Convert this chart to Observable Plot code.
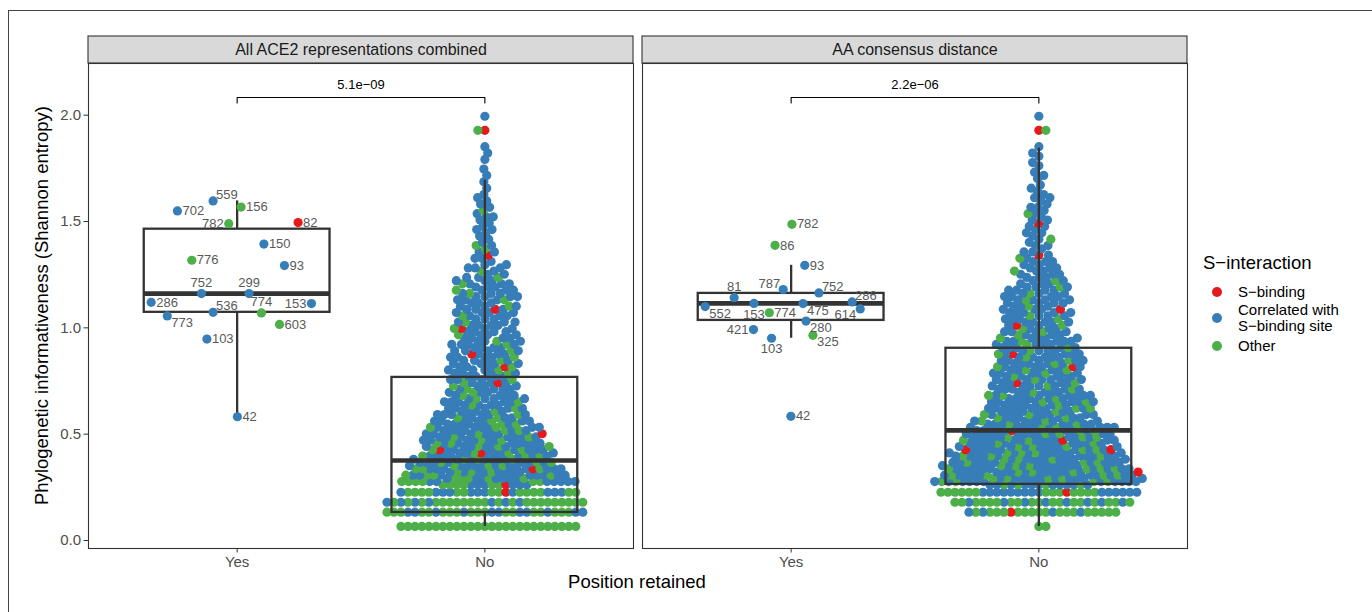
<!DOCTYPE html>
<html><head><meta charset="utf-8">
<script src="https://cdn.jsdelivr.net/npm/d3@7"></script>
<script src="https://cdn.jsdelivr.net/npm/@observablehq/plot@0.6"></script>
<style>
body{margin:0;background:#fff;font-family:"Liberation Sans",Arial,sans-serif;}
#wrap{position:relative;width:1372px;height:612px;overflow:hidden;background:#fff;}
#frame{position:absolute;left:8px;top:10px;width:1420px;height:700px;border:1px solid #444;box-sizing:border-box;}
#chart{position:absolute;left:0;top:0;}
.lg{position:absolute;color:#000;white-space:nowrap;}
.dot{position:absolute;width:10px;height:10px;border-radius:50%;}
</style></head>
<body><div id="wrap"><div id="frame"></div><div id="chart"></div>
<div class="lg" style="left:1203px;top:252px;font-size:18.5px;">S−interaction</div>
<div class="dot" style="left:1212px;top:287px;background:#E41A1C"></div>
<div class="lg" style="left:1238px;top:283px;font-size:15px;line-height:18px;">S−binding</div>
<div class="dot" style="left:1212px;top:313px;background:#377EB8"></div>
<div class="lg" style="left:1238px;top:302px;font-size:15px;line-height:16px;">Correlated with<br>S−binding site</div>
<div class="dot" style="left:1212px;top:341px;background:#4DAF4A"></div>
<div class="lg" style="left:1238px;top:337px;font-size:15px;line-height:18px;">Other</div>
</div>
<script>
// ---------------- data ----------------
const facets = ["All ACE2 representations combined", "AA consensus distance"];
const groups = ["Yes", "No"];
const categories = ["S-binding", "Correlated with S-binding site", "Other"];
const catCodes = {S: 0, C: 1, O: 2};
const catColors = ["#E41A1C", "#377EB8", "#4DAF4A"];
const pValues = ["5.1e−09", "2.2e−06"];

// retained positions ("Yes"), facet 1
const yes1Label = ["559","702","156","782","82","150","776","93","752","299","286","153","536","774","773","603","103","42"];
const yes1Value = [1.597,1.550,1.568,1.490,1.495,1.394,1.318,1.293,1.161,1.161,1.120,1.114,1.073,1.070,1.056,1.016,0.947,0.582];
const yes1Cat   = [1,1,2,2,0,1,2,1,1,1,1,1,1,2,1,2,1,1];
const yes1Jitter= [-0.097,-0.241,0.016,-0.034,0.246,0.108,-0.183,0.191,-0.144,0.048,-0.347,0.300,-0.097,0.098,-0.282,0.171,-0.122,0.001];
const yes1LabelSide = ["tr","r","r","l","r","r","r","r","t","t","r","l","tr","t","br","r","r","r"];

// retained positions ("Yes"), facet 2
const yes2Label = ["782","86","93","787","752","81","286","153","475","552","614","774","280","421","325","103","42"];
const yes2Value = [1.487,1.388,1.294,1.180,1.164,1.142,1.122,1.115,1.114,1.100,1.089,1.071,1.032,0.992,0.965,0.951,0.584];
const yes2Cat   = [2,2,1,1,1,1,1,1,1,1,1,2,1,1,2,1,1];
const yes2Jitter= [0.003,-0.065,0.055,-0.032,0.112,-0.230,0.246,-0.150,0.048,-0.347,0.279,-0.088,0.060,-0.152,0.088,-0.079,-0.001];
const yes2LabelSide = ["r","r","r","tl","tr","t","tr","b","br","br","bl","r","br","l","br","b","r"];

// non-retained positions ("No"): entropy levels, and the classes of the positions found at each level
// (S = S-binding, C = correlated with S-binding site, O = other)
const entropyLevels = [0.066,0.133,0.180,0.227,
0.262,0.277,0.292,0.307,0.322,0.337,0.352,0.367,0.382,0.397,
0.412,0.427,0.442,0.457,0.472,0.487,0.502,0.517,0.532,0.547,
0.562,0.577,0.592,0.607,0.622,0.637,0.652,0.667,0.682,0.697,
0.712,0.727,0.742,0.757,0.772,0.787,0.802,0.817,0.832,0.847,
0.862,0.877,0.892,0.907,0.922,0.937,0.952,0.967,0.982,0.997,
1.012,1.027,1.042,1.057,1.072,1.087,1.102,1.117,1.132,1.147,
1.162,1.177,1.192,1.207,1.222,1.237,1.252,1.267,1.282,1.297,
1.312,1.327,1.342,1.357,1.372,1.387,1.402,1.417,1.432,1.447,
1.462,1.477,1.492,1.507,1.522,1.537,1.552,1.567,1.582,1.597,
1.612,1.627,1.642,1.657,1.672,1.687,1.702,1.717,1.732,1.747,
1.762,1.777,1.792,1.807,1.822,1.837,1.852,1.929,1.995];

const no1Classes = ["OOOOOOOOOOOOOOOOOOOOOOOOOO","OCOCOOCOOCOCOOCOOCOOCOCOOCOCO","OOCOOOCOOOCOOOOCOOOCOOOCOOOCO","COCOCSOCOOCOCOCOOCOCOCOOCO",
"COCOCSOCOCOCO","OCOCCOCOCOCOC","COCCOCOCOCCO","CCOCOCCOCCOC","COCCOCCCOCC","CCSCOCCOCOC","COCCCOCCOCC","CCOCCOCCCO","COCCCOCCOC","CCOCCCOCCO",
"CSCOCCOCC","CCOCCSCOC","COCCOCCCO","CCOCCCOCC","COCCOCCC","CCCOCCOCC","CCOCCCSC","COCCCOCC","CCCOCCOC","COCCCOC",
"CCOCCCC","COCCOC","CCCOCCC","COCCC","CCCOCC","CCOCC","CCCCOC","COCCC","CCOCC","CCOC",
"COCCC","CCOC","CSCCO","CCOC","CCCCC","COCC","CCCOC","CSCO","CCCCC","COCC",
"CCCOC","CSCC","CCOCC","CCCC","COCCC","CCOC","CCCC","CCOC","CCCC","CSCO",
"CCCC","COCC","CCC","CCOC","CCCC","CSCC","COCC","CCC","CCOC","CCCC",
"COCC","CCCO","CCC","CCOC","CCC","COC","CC","OC","CCC","CC",
"C","CC","S","CC","O","CO","C","C","C","C",
"CC","C","C","C","CC","C","O","C","C","C",
"C","C","","C","","C","","C","","C",
"","","C","","C","","C","SO","C"];

const no2Classes = ["OO","OOOCOOOOSOOCOOOOCOOOCO","OCOOCOOCOOCOOCOOOCOOCOOCOO","COCOCOCSCOCOCOCOCCOCOCOCOCOCO",
"CCOCCOCCCOCCOCC","COCCCOCCOCCCOCC","CCOCCCOCCOCCCOC","COCCOCCCOCCOCC","CCOCCCOCCOCCCS","COCCCOCCCOCCOC","CCOCCCOCCCOCC","COCCCOCCOCCCC","CCCOCCOCCCOC","CCOCCCCOCCOCC",
"COCCCOCCCOCC","CCOCCCOCCCSS","COCCCOCCOCC","CCOCCCCOCCC","CCCOCCSCCOC","COCCOCCCOCC","CCOCCCOCCC","CSCCOCCCOCC","COCCCOCCCC","CCOCCOCCCC",
"COCCCOCC","CCCOCCOC","CCOCCCOC","COCCCCC","CCCOCCCO","CCOCCCC","COCCCOCC","CCCOCCC","CCOCCCOC","COCCCC",
"CCOCCC","CCOCCC","CSCCOC","COCCCC","CCCOCC","CCOCCC","COCCOC","CCSCCO","CCOCCC","COCCCC",
"CCCOCC","CSCCCO","COCCC","CCCOCC","CCOCC","COCCCC","CCCOC","CCOC","COCCC","CCOC",
"CSOC","CCCCC","COCC","CCOC","CCCCC","CCSC","COCC","CCCC","CCOCC","CCCC",
"COCC","CCCC","CCOC","CCC","COC","CCC","CCC","CCO","CCC","CC",
"CCC","CO","SC","CC","C","CC","C","CO","C","CC",
"C","CC","S","CC","C","CO","C","CC","C","C",
"CC","C","C","C","C","","C","C","C","",
"C","C","","C","C","","C","SO","C"];

// box-plot summaries
const boxFacet = [0, 0, 1, 1];
const boxGroup = [1, 2, 1, 2];
const boxQ1  = [1.073, 0.132, 1.035, 0.264];
const boxMed = [1.161, 0.376, 1.115, 0.518];
const boxQ3  = [1.464, 0.767, 1.162, 0.904];
const boxLo  = [0.582, 0.066, 0.951, 0.066];
const boxHi  = [1.597, 1.694, 1.294, 1.845];

// ---------------- layout ----------------
const W = 1372, H = 612, mT = 63, mB = 64, mL = 87, mR = 185;
const padInner = 0.0163;
const xDom = [0.4, 2.6];
const yDom = [-0.0376, 2.2431];
const bw = (W - mL - mR) / (2 - padInner) * (1 - padInner);
const pxX = bw / (xDom[1] - xDom[0]);
const pxY = (H - mT - mB) / (yDom[1] - yDom[0]);
const SP = 7; // beeswarm spacing in px
const R = 4.6;

if (no1Classes.length !== entropyLevels.length || no2Classes.length !== entropyLevels.length)
  throw new Error("length mismatch " + entropyLevels.length + " " + no1Classes.length + " " + no2Classes.length);

function swarm(ysPx, s) {
  const placed = [], out = [];
  ysPx.forEach((y, i) => {
    const near = placed.filter(p => Math.abs(p.y - y) < s);
    const cands = [0];
    for (const p of near) { const dx = Math.sqrt(s * s - (p.y - y) ** 2); cands.push(p.x + dx, p.x - dx); }
    const pref = i % 2 ? 1 : -1;
    cands.sort((a, b) => {
      const d = Math.abs(a) - Math.abs(b);
      if (Math.abs(d) > 1e-6) return d;
      return pref * (b - a);
    });
    let best = 0;
    for (const c of cands) {
      if (near.every(p => (p.x - c) ** 2 + (p.y - y) ** 2 >= s * s - 1e-6)) { best = c; break; }
    }
    placed.push({x: best, y});
    out.push(best);
  });
  return out;
}

function buildNo(fi, classes) {
  const pts = [];
  entropyLevels.forEach((v, i) => {
    for (const ch of classes[i]) pts.push({facet: facets[fi], value: v, cat: categories[catCodes[ch]]});
  });
  const offs = swarm(pts.map(p => p.value * pxY), SP);
  pts.forEach((p, i) => p.x = 2 + offs[i] / pxX);
  return pts;
}
const noPts = [...buildNo(0, no1Classes), ...buildNo(1, no2Classes)];

const sideSpec = {r:["start",5,0], l:["end",-5,0], t:["middle",0,-11], b:["middle",0,11], tr:["start",3,-6], tl:["end",-3,-6], br:["start",4,7], bl:["end",-4,6]};
function buildYes(fi, labels, values, cats, jit, sides) {
  return labels.map((lab, i) => {
    const [anchor, dx, dy] = sideSpec[sides[i]];
    const x = 1 + jit[i];
    return {facet: facets[fi], label: lab, value: values[i], cat: categories[cats[i]], x,
            lx: x + dx / pxX, ly: values[i] - dy / pxY, anchor};
  });
}
const yesPts = [...buildYes(0, yes1Label, yes1Value, yes1Cat, yes1Jitter, yes1LabelSide),
                ...buildYes(1, yes2Label, yes2Value, yes2Cat, yes2Jitter, yes2LabelSide)];

const boxes = boxFacet.map((f, i) => ({facet: facets[f], g: boxGroup[i], q1: boxQ1[i], med: boxMed[i], q3: boxQ3[i], lo: boxLo[i], hi: boxHi[i]}));
const halfBox = 0.375;

const yStripTop = yDom[1] + 27 / pxY;
const yStripMid = yDom[1] + 13.5 / pxY;
const yBr = (540 - 97) / pxY, yBrTick = (540 - 102.5) / pxY, yBrText = (540 - 84) / pxY;
const brackets = facets.flatMap(f => [
  {facet: f, x: 1, y: yBrTick}, {facet: f, x: 1, y: yBr}, {facet: f, x: 2, y: yBr}, {facet: f, x: 2, y: yBrTick}]);
const pLabels = facets.map((f, i) => ({facet: f, text: pValues[i]}));

const chart = Plot.plot({
  width: W, height: H, marginTop: mT, marginBottom: mB, marginLeft: mL, marginRight: mR,
  style: {fontFamily: "'Liberation Sans', Arial, sans-serif", background: "transparent"},
  fx: {domain: facets, paddingInner: padInner, paddingOuter: 0, axis: null, label: null},
  x: {domain: xDom, label: null},
  y: {domain: yDom, label: null},
  color: {domain: categories, range: catColors},
  marks: [
    Plot.rect(facets, {fx: d => d, x1: xDom[0], x2: xDom[1], y1: yDom[1], y2: yStripTop, fill: "#D9D9D9", stroke: "#333", strokeWidth: 1.1}),
    Plot.text(facets, {fx: d => d, x: 1.5, y: yStripMid, text: d => d, fontSize: 16, fill: "#1A1A1A"}),
    Plot.frame({stroke: "#333", strokeWidth: 1.1}),
    Plot.axisY({ticks: [0, 0.5, 1, 1.5, 2], tickFormat: d3.format(".1f"), tickSize: 4.5, tickPadding: 3, fontSize: 15, fill: "#4D4D4D", stroke: "#333", label: null}),
    Plot.axisX({ticks: [1, 2], tickFormat: d => groups[d - 1], tickSize: 4.5, tickPadding: 3, fontSize: 15, fill: "#4D4D4D", stroke: "#333", label: null}),
    Plot.dot(noPts, {fx: "facet", x: "x", y: "value", fill: "cat", r: R}),
    Plot.rect(boxes, {fx: "facet", x1: d => d.g - halfBox, x2: d => d.g + halfBox, y1: "q1", y2: "q3", fill: "none", stroke: "#333", strokeWidth: 2.3}),
    Plot.ruleX(boxes, {fx: "facet", x: "g", y1: "q3", y2: "hi", stroke: "#333", strokeWidth: 2.3}),
    Plot.ruleX(boxes, {fx: "facet", x: "g", y1: "lo", y2: "q1", stroke: "#333", strokeWidth: 2.3}),
    Plot.ruleY(boxes, {fx: "facet", y: "med", x1: d => d.g - halfBox, x2: d => d.g + halfBox, stroke: "#333", strokeWidth: 4.6}),
    Plot.dot(yesPts, {fx: "facet", x: "x", y: "value", fill: "cat", r: R}),
    ...["start", "middle", "end"].map(a => Plot.text(yesPts.filter(d => d.anchor === a), {fx: "facet", x: "lx", y: "ly", text: "label", textAnchor: a, fontSize: 13, fill: "#595959"})),
    Plot.line(brackets, {fx: "facet", x: "x", y: "y", z: "facet", stroke: "#000", strokeWidth: 1.1}),
    Plot.text(pLabels, {fx: "facet", x: 1.5, y: yBrText, text: "text", fontSize: 13, fill: "#000"})
  ]
});
document.getElementById("chart").appendChild(chart);
const svg = d3.select(chart);
svg.append("text").attr("x", (mL + W - mR) / 2).attr("y", 588).attr("text-anchor", "middle")
  .attr("font-size", 18.5).attr("fill", "#000").text("Position retained");
svg.append("text").attr("transform", `translate(48,${(mT + H - mB) / 2}) rotate(-90)`).attr("text-anchor", "middle")
  .attr("font-size", 18.5).attr("fill", "#000").text("Phylogenetic informativeness (Shannon entropy)");
</script>
</body></html>
